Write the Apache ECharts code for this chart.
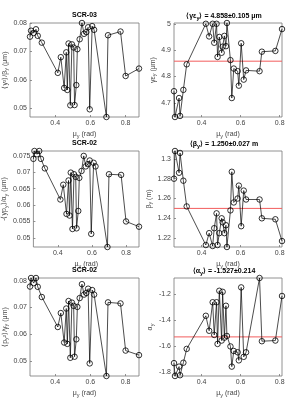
<!DOCTYPE html>
<html><head><meta charset="utf-8">
<script src="https://cdn.jsdelivr.net/npm/echarts@6/dist/echarts.min.js"></script>
<style>html,body{margin:0;padding:0;background:#fff}#c{width:293px;height:404px}</style>
</head><body><div id="c"></div>
<script>
// ---- data ----
const xLeft = [0.257,0.263,0.278,0.291,0.301,0.324,0.415,0.432,0.451,0.463,0.469,0.476,0.486,0.495,0.505,0.510,0.520,0.526,0.539,0.552,0.564,0.577,0.587,0.596,0.610,0.621,0.691,0.700,0.771,0.800,0.876];
const scr03y2 = [0.0752,0.0773,0.0765,0.0778,0.0755,0.0731,0.0625,0.0680,0.0572,0.0697,0.0565,0.0728,0.0511,0.0725,0.0714,0.0512,0.0582,0.0708,0.0743,0.0800,0.0762,0.0768,0.0785,0.0497,0.0789,0.0776,0.0470,0.0757,0.0770,0.0614,0.0640];
const scr02ypy = [0.0741,0.0765,0.0755,0.0765,0.0741,0.0712,0.0617,0.0662,0.0573,0.0675,0.0568,0.0699,0.0527,0.0694,0.0686,0.0529,0.0582,0.0683,0.0704,0.0750,0.0718,0.0725,0.0736,0.0512,0.0729,0.0718,0.0472,0.0694,0.0692,0.0550,0.0534];
const scr02py2 = [0.0778,0.0810,0.0791,0.0810,0.0777,0.0739,0.0627,0.0679,0.0569,0.0696,0.0564,0.0724,0.0512,0.0718,0.0706,0.0516,0.0581,0.0702,0.0735,0.0787,0.0748,0.0754,0.0770,0.0491,0.0765,0.0748,0.0444,0.0719,0.0715,0.0539,0.0522];

const xRight = [0.259,0.264,0.285,0.290,0.307,0.324,0.422,0.439,0.457,0.465,0.477,0.482,0.491,0.503,0.508,0.517,0.525,0.530,0.548,0.555,0.565,0.585,0.591,0.603,0.616,0.628,0.697,0.709,0.778,0.812];
const gammaEps = [4.744,4.646,4.718,4.650,4.749,4.846,5.000,4.952,5.000,4.928,5.000,4.874,4.950,4.890,4.913,4.954,4.915,5.003,4.862,4.718,4.830,4.820,4.765,4.926,4.788,4.823,4.820,4.894,4.897,4.980];
const betaY = [1.280,1.308,1.286,1.306,1.278,1.252,1.213,1.225,1.212,1.230,1.245,1.213,1.225,1.240,1.236,1.225,1.233,1.211,1.248,1.287,1.256,1.260,1.273,1.232,1.268,1.259,1.259,1.240,1.239,1.217];
const alphaY = [-1.728,-1.827,-1.755,-1.821,-1.725,-1.619,-1.365,-1.480,-1.261,-1.512,-1.261,-1.581,-1.173,-1.555,-1.181,-1.533,-1.288,-1.520,-1.600,-1.755,-1.635,-1.645,-1.707,-1.147,-1.680,-1.645,-1.075,-1.560,-1.555,-1.213];

const means = [4.858, 1.250, -1.527];
const xTicks = [0.4, 0.6, 0.8];
const yTicksL1 = [0.05, 0.06, 0.07, 0.08];
const yTicksL2 = [0.05, 0.055, 0.06, 0.065, 0.07, 0.075];
const yTicksL3 = [0.05, 0.06, 0.07, 0.08];
const yTicksR1 = [4.7, 4.8, 4.9, 5];
const yTicksR2 = [1.22, 1.24, 1.26, 1.28, 1.3];
const yTicksR3 = [-1.8, -1.6, -1.4, -1.2];

// ---- layout ----
const FONT = 'Liberation Sans, Arial, sans-serif';
const rich = {
  n: {fontSize: 7, fontFamily: FONT, color: '#444'},
  s: {fontSize: 5.5, fontFamily: FONT, color: '#444', padding: [3, 0, 0, 0]},
  tb: {fontSize: 7, fontFamily: FONT, fontWeight: 'bold', color: '#000'},
  ts: {fontSize: 5.5, fontFamily: FONT, fontWeight: 'bold', color: '#000', padding: [3, 0, 0, 0]}
};
const rows = [{top: 23, height: 94}, {top: 151, height: 96}, {top: 278, height: 98}];
const cols = [{left: 30, width: 109}, {left: 174, width: 108}];

const panels = [
  {x: xLeft, y: scr03y2, yt: yTicksL1, dec: 2, title: '{tb|SCR-03}', yname: '{n|⟨y²⟩/β}{s|y}{n| (μm)}'},
  {x: xRight, y: gammaEps, yt: yTicksR1, dec: 1, mean: means[0], title: '{tb|⟨γε}{ts|y}{tb|⟩ = 4.858±0.105 μm}', yname: '{n|γε}{s|y}{n| (μm)}'},
  {x: xLeft, y: scr02ypy, yt: yTicksL2, dec: 3, title: '{tb|SCR-02}', yname: '{n|-⟨yp}{s|y}{n|⟩/α}{s|y}{n| (μm)}'},
  {x: xRight, y: betaY, yt: yTicksR2, dec: 2, mean: means[1], title: '{tb|⟨β}{ts|y}{tb|⟩ = 1.250±0.027 m}', yname: '{n|β}{s|y}{n| (m)}'},
  {x: xLeft, y: scr02py2, yt: yTicksL3, dec: 2, title: '{tb|SCR-02}', yname: '{n|⟨p}{s|y}{n|²⟩/γ}{s|y}{n| (μm)}'},
  {x: xRight, y: alphaY, yt: yTicksR3, dec: 1, mean: means[2], title: '{tb|⟨α}{ts|y}{tb|⟩ = -1.527±0.214}', yname: '{n|α}{s|y}'}
];

const grid = [], xAxis = [], yAxis = [], series = [], title = [];
const axisColor = '#777';
panels.forEach((p, i) => {
  const r = rows[Math.floor(i / 2)], c = cols[i % 2];
  grid.push({left: c.left, top: r.top, width: c.width, height: r.height, show: true, borderColor: axisColor, borderWidth: 0.8, containLabel: false});
  const fmt = d => v => {
    let s = (+v).toFixed(d);
    s = s.replace(/0+$/, '').replace(/\.$/, '');
    return s;
  };
  xAxis.push({
    type: 'value', gridIndex: i,
    min: v => v.min, max: v => v.max,
    axisLine: {show: false},
    axisTick: {show: true, inside: true, length: 2, lineStyle: {color: axisColor, width: 0.8}, customValues: xTicks},
    axisLabel: {customValues: xTicks, fontSize: 7, fontFamily: FONT, color: '#444', margin: 3, formatter: v => (+v).toFixed(1)},
    splitLine: {show: false},
    name: '{n|μ}{s|y}{n| (rad)}', nameLocation: 'middle', nameGap: 13,
    nameTextStyle: {rich: rich}
  });
  yAxis.push({
    type: 'value', gridIndex: i,
    min: v => v.min, max: v => v.max,
    axisLine: {show: false},
    axisTick: {show: true, inside: true, length: 2, lineStyle: {color: axisColor, width: 0.8}, customValues: p.yt},
    axisLabel: {customValues: p.yt, fontSize: 7, fontFamily: FONT, color: '#444', margin: 3, formatter: fmt(p.dec)},
    splitLine: {show: false},
    name: p.yname, nameLocation: 'middle', nameGap: p.dec === 3 ? 22 : (i % 2 ? 15 : 19), nameRotate: 90,
    nameTextStyle: {rich: rich}
  });
  if (p.mean !== undefined) {
    const xmin = Math.min(...p.x), xmax = Math.max(...p.x);
    series.push({
      type: 'line', xAxisIndex: i, yAxisIndex: i, z: 1,
      data: [[xmin, p.mean], [xmax, p.mean]],
      symbol: 'none', silent: true,
      lineStyle: {color: '#f25c5c', width: 1, type: 'solid'},
      itemStyle: {color: '#f25c5c'},
      emphasis: {disabled: true}, animation: false
    });
  }
  series.push({
    type: 'line', xAxisIndex: i, yAxisIndex: i, z: 3,
    data: p.x.map((xv, k) => [xv, p.y[k]]),
    symbol: 'circle', symbolSize: 5.5,
    lineStyle: {color: '#000', width: 0.7},
    itemStyle: {color: 'rgba(0,0,0,0)', borderColor: '#000', borderWidth: 0.8},
    emphasis: {disabled: true}, animation: false, clip: false
  });
  title.push({
    text: p.title, left: c.left + c.width / 2 - (i % 2 ? 4 : 0), top: r.top - 11, textAlign: 'center',
    padding: 0, textStyle: {rich: rich}
  });
});

const chart = echarts.init(document.getElementById('c'), null, {renderer: 'canvas'});
chart.setOption({animation: false, backgroundColor: '#fff', title, grid, xAxis, yAxis, series});
</script></body></html>
